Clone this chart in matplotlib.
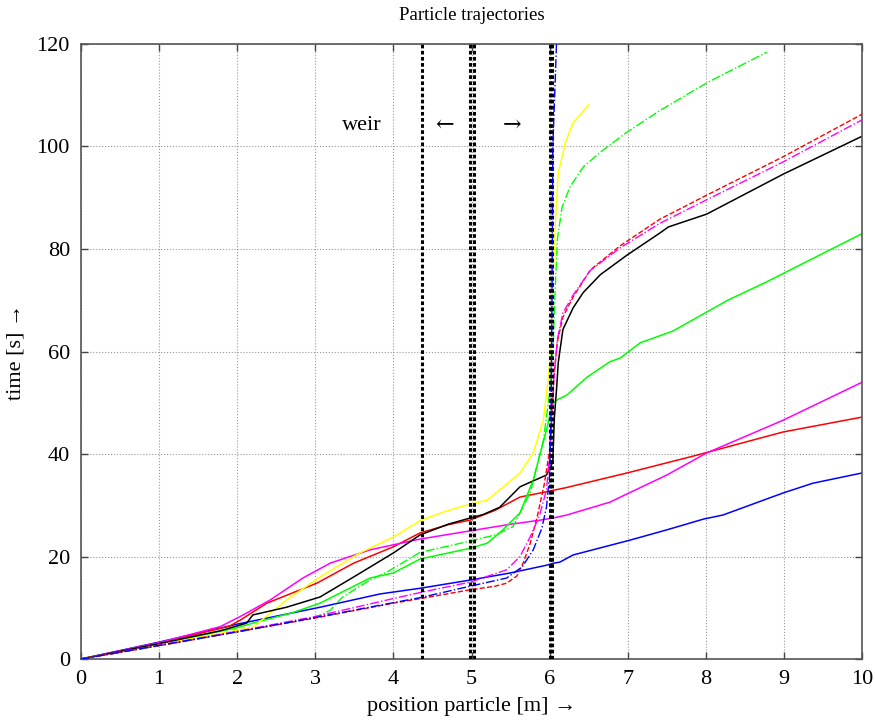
import numpy as np
import matplotlib
matplotlib.use("Agg")
import matplotlib.pyplot as plt

plt.rcParams['font.family'] = ['Liberation Serif', 'DejaVu Serif']

# particle tracks: position [m] vs time [s]
blue_x = [0, 1, 2, 3.06, 3.83, 4.34, 4.98, 5.5, 5.96, 6.05, 6.13, 6.3, 7.03, 7.5, 7.97, 8.22, 8.99, 9.37, 10]
blue_t = [0, 3.3, 6.8, 10.1, 12.7, 13.8, 15.4, 16.8, 18.3, 18.7, 18.9, 20.3, 23.2, 25.2, 27.3, 28.1, 32.4, 34.3, 36.3]

red_x = [0, 1, 1.9, 2.04, 2.38, 3.02, 3.49, 4.0, 4.34, 4.7, 4.98, 5.3, 5.62, 5.88, 6.2, 6.99, 7.84, 8.99, 10]
red_t = [0, 3.1, 6.4, 7.6, 10.9, 14.8, 18.7, 21.9, 24.6, 26.2, 27.1, 29.0, 31.6, 32.4, 33.4, 36.3, 39.6, 44.3, 47.2]

black_x = [0, 1, 1.78, 2.12, 2.2, 2.63, 3.06, 3.49, 4.0, 4.34, 4.7, 4.98, 5.15, 5.36, 5.62, 5.96, 6.04, 6.06, 6.09, 6.11, 6.17, 6.3, 6.43, 6.65, 6.99, 7.41, 7.52, 8.01, 8.99, 10]
black_t = [0, 3.0, 5.5, 7.0, 8.6, 10.1, 12.1, 16.0, 20.7, 24.2, 26.3, 27.5, 28.2, 29.6, 33.6, 35.9, 38.4, 47.0, 53.0, 57.8, 64.3, 68.5, 71.5, 75.0, 78.8, 83.1, 84.3, 86.8, 94.6, 102.0]

yellow_x = [0, 1, 2, 2.2, 2.63, 3.06, 3.57, 4.0, 4.34, 4.7, 4.98, 5.2, 5.36, 5.62, 5.79, 5.92, 5.98, 6.02, 6.04, 6.07, 6.11, 6.2, 6.3, 6.5]
yellow_t = [0, 2.8, 5.6, 6.2, 11.5, 16.0, 20.7, 23.8, 27.0, 29.0, 30.2, 31.0, 33.0, 36.3, 40.2, 46.6, 54.4, 61.0, 72.0, 84.3, 94.8, 100.7, 104.6, 108.1]

magenta_x = [0, 1, 1.78, 2.04, 2.42, 2.84, 3.19, 3.7, 4.34, 4.98, 5.5, 5.88, 6.04, 6.22, 6.77, 6.99, 7.5, 8.01, 8.99, 10]
magenta_t = [0, 3.2, 6.3, 8.3, 11.5, 15.8, 18.7, 21.3, 23.4, 25.0, 26.3, 27.1, 27.5, 28.1, 30.6, 32.2, 35.9, 40.2, 46.6, 54.0]

green_x = [0, 1, 2, 2.2, 2.7, 3.06, 3.7, 4.0, 4.34, 4.98, 5.2, 5.36, 5.62, 5.79, 5.96, 6.04, 6.1, 6.22, 6.48, 6.77, 6.9, 7.16, 7.58, 8.28, 8.78, 10]
green_t = [0, 2.9, 6.1, 7.0, 9.0, 10.9, 15.8, 16.8, 19.5, 21.6, 22.6, 24.6, 28.5, 34.9, 44.7, 49.9, 50.6, 51.5, 55.0, 58.0, 58.7, 61.7, 64.0, 70.0, 73.6, 83.0]

green_dash_x = [0, 1, 2, 3.0, 3.19, 3.35, 3.7, 3.92, 4.34, 4.98, 5.3, 5.53, 5.75, 5.92, 6.0, 6.05, 6.07, 6.1, 6.16, 6.26, 6.43, 6.65, 6.99, 7.41, 8.01, 8.78]
green_dash_t = [0, 2.6, 5.3, 8.1, 9.5, 12.1, 15.4, 17.0, 20.8, 23.0, 24.2, 25.8, 32.4, 42.7, 52.0, 63.0, 72.0, 82.0, 88.2, 92.1, 96.0, 98.9, 102.8, 107.0, 112.4, 118.4]

red_dash_x = [0, 1, 2, 3, 4, 4.35, 4.98, 5.3, 5.45, 5.58, 5.66, 5.75, 5.84, 5.93, 6.0, 6.03, 6.06, 6.1, 6.17, 6.3, 6.52, 6.9, 7.41, 8.01, 8.99, 10]
red_dash_t = [0, 2.6, 5.3, 8.0, 10.9, 11.8, 13.5, 14.2, 14.8, 16.2, 18.7, 22.5, 27.7, 34.0, 40.8, 48.0, 56.0, 62.0, 66.7, 70.6, 75.9, 80.6, 85.8, 90.5, 98.0, 106.3]

magenta_dash_x = [0, 1, 2, 3, 4, 4.35, 4.98, 5.45, 5.62, 5.75, 5.87, 5.96, 6.01, 6.05, 6.1, 6.17, 6.3, 6.52, 6.9, 7.41, 8.01, 8.99, 10]
magenta_dash_t = [0, 2.7, 5.4, 8.3, 11.8, 13.0, 15.0, 17.4, 20.0, 23.8, 28.0, 33.0, 42.0, 54.0, 62.5, 67.5, 71.0, 75.8, 80.2, 85.0, 89.6, 97.0, 105.2]

blue_dash_x = [0, 1, 2, 3, 4, 4.35, 4.98, 5.45, 5.65, 5.79, 5.9, 5.96, 6.0, 6.02, 6.03, 6.04, 6.06, 6.09]
blue_dash_t = [0, 2.65, 5.3, 8.1, 11.0, 12.0, 14.2, 15.8, 18.0, 21.3, 25.5, 29.7, 36.0, 50.0, 70.0, 100.0, 108.0, 121.0]

# weir geometry
weir_lines = [4.37, 4.98, 5.03, 6.01, 6.03]

fig = plt.figure(figsize=(8.75, 7.2), dpi=100)
ax = fig.add_axes([0.0926, 0.0847, 0.8926, 0.8542])

for xs in weir_lines:
    ax.axvline(xs, color='black', linestyle=(0, (1.2, 0.8)), linewidth=2.2, zorder=3)

ax.plot(blue_x, blue_t, color='#0000ff', linewidth=1.1)
ax.plot(red_x, red_t, color='#ff0000', linewidth=1.1)
ax.plot(magenta_x, magenta_t, color='#ff00ff', linewidth=1.1)
ax.plot(green_x, green_t, color='#00ff00', linewidth=1.1)
ax.plot(yellow_x, yellow_t, color='#ffff00', linewidth=1.1)
ax.plot(black_x, black_t, color='black', linewidth=1.1)
ax.plot(green_dash_x, green_dash_t, color='#00ff00', linewidth=1.0, linestyle='-.')
ax.plot(red_dash_x, red_dash_t, color='#ff0000', linewidth=1.0, linestyle='--')
ax.plot(magenta_dash_x, magenta_dash_t, color='#ff00ff', linewidth=1.0, linestyle='-.')
ax.plot(blue_dash_x, blue_dash_t, color='#0000ff', linewidth=1.0, linestyle='-.', zorder=4)

ax.text(3.6, 104, 'weir', fontsize=16, ha='center', va='center')
ax.text(4.66, 104, '←', fontsize=16, ha='center', va='center', family=['DejaVu Serif'])
ax.text(5.52, 104, '→', fontsize=16, ha='center', va='center', family=['DejaVu Serif'])

ax.set_xlim(0, 10)
ax.set_ylim(0, 120)
ax.set_xticks(np.arange(0, 11, 1))
ax.set_yticks(np.arange(0, 121, 20))
ax.grid(True, color='#999999', linestyle=':', linewidth=0.8)
ax.tick_params(direction='in', length=5, width=1, labelsize=16, top=True, right=True,
               color='#444444', pad=8)
for sp in ax.spines.values():
    sp.set_color('#555555')
    sp.set_linewidth(1.2)

ax.set_title('Particle trajectories', fontsize=13.5, pad=17)
ax.set_xlabel('position particle [m] →', fontsize=16, labelpad=6)
ax.set_ylabel('time [s] →', fontsize=16, labelpad=8)

fig.savefig('out.png', dpi=100)
